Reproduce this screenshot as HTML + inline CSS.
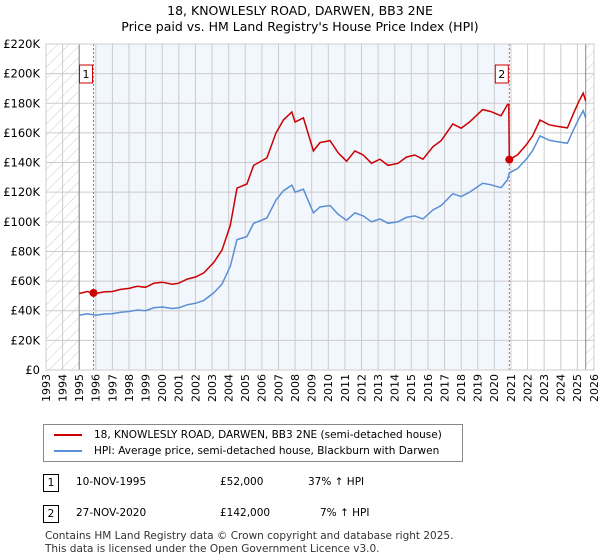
<!DOCTYPE html>
<html><head><meta charset="utf-8">
<style>
body{margin:0;background:#fff;font-family:"DejaVu Sans","Liberation Sans",sans-serif;}
#wrap{position:relative;width:600px;height:560px;overflow:hidden}
.t{position:absolute;font-size:12px;color:#000}
</style></head><body>
<div id="wrap">
<svg id="chart" width="600" height="420" style="position:absolute;left:0;top:0;font-family:'DejaVu Sans',sans-serif"></svg>
<div style="position:absolute;left:43px;top:424px;width:420px;height:38px;border:1px solid #888;box-sizing:border-box;font-size:10.5px">
 <div style="position:absolute;left:10px;top:4px;white-space:nowrap"><span style="display:inline-block;width:28px;height:2px;background:#cc0000;vertical-align:middle;margin-right:12px"></span>18, KNOWLESLY ROAD, DARWEN, BB3 2NE (semi-detached house)</div>
 <div style="position:absolute;left:10px;top:20px;white-space:nowrap"><span style="display:inline-block;width:28px;height:2px;background:#5a8fd4;vertical-align:middle;margin-right:12px"></span>HPI: Average price, semi-detached house, Blackburn with Darwen</div>
</div>
<div class="t" style="top:474px;left:0;width:600px;font-size:10.5px">
 <span style="position:absolute;left:43px;top:0;border:1px solid #000;width:14px;height:16px;text-align:center;line-height:16px">1</span>
 <span style="position:absolute;left:76px;top:2px">10-NOV-1995</span>
 <span style="position:absolute;left:220px;top:2px">£52,000</span>
 <span style="position:absolute;left:308px;top:2px">37% ↑ HPI</span>
</div>
<div class="t" style="top:505px;left:0;width:600px;font-size:10.5px">
 <span style="position:absolute;left:43px;top:0;border:1px solid #000;width:14px;height:16px;text-align:center;line-height:16px">2</span>
 <span style="position:absolute;left:76px;top:2px">27-NOV-2020</span>
 <span style="position:absolute;left:220px;top:2px">£142,000</span>
 <span style="position:absolute;left:320px;top:2px">7% ↑ HPI</span>
</div>
<div class="t" style="left:45px;top:530px;font-size:10.5px;color:#333;line-height:13px;white-space:nowrap">Contains HM Land Registry data © Crown copyright and database right 2025.<br>This data is licensed under the Open Government Licence v3.0.</div>
</div>
<script>
const years=[1993,1994,1995,1996,1997,1998,1999,2000,2001,2002,2003,2004,2005,2006,2007,2008,2009,2010,2011,2012,2013,2014,2015,2016,2017,2018,2019,2020,2021,2022,2023,2024,2025,2026];
const yTicks=[0,20000,40000,60000,80000,100000,120000,140000,160000,180000,200000,220000];
const yLabels=["£0","£20K","£40K","£60K","£80K","£100K","£120K","£140K","£160K","£180K","£200K","£220K"];
const hpiT=[1995.0,1995.5,1996.0,1996.5,1997.0,1997.5,1998.0,1998.5,1999.0,1999.5,2000.0,2000.6,2001.0,2001.5,2002.0,2002.5,2003.1,2003.6,2004.1,2004.5,2005.1,2005.5,2006.3,2006.85,2007.3,2007.8,2008.0,2008.5,2009.1,2009.5,2010.1,2010.6,2011.1,2011.6,2012.1,2012.6,2013.1,2013.6,2014.2,2014.7,2015.2,2015.7,2016.3,2016.8,2017.5,2018.0,2018.5,2019.3,2019.8,2020.4,2020.8,2020.9,2021.4,2021.9,2022.3,2022.75,2023.3,2023.8,2024.4,2024.8,2025.1,2025.35,2025.5];
const hpiV=[37000,38000,37000,37800,38000,39000,39500,40500,40000,42000,42500,41500,42000,44000,45000,47000,52000,58000,70000,88000,90000,99000,102600,114700,121000,124800,120000,122000,106000,110000,111000,105000,101000,106000,104000,100000,102000,99000,100000,103000,104000,102000,108000,111000,119000,117000,120000,126000,125000,123000,128500,133000,136000,142000,148000,158000,155000,154000,153000,163000,170000,175000,170000];
const saleT=[1995.86,2020.9];
const saleV=[52000,142000];
const L=46,R=594,T=44,B=370;
const sx=y=>L+(y-1993)/33*(R-L);
const sy=v=>B-v/220000*(B-T);
const svg=document.getElementById('chart');
const NS='http://www.w3.org/2000/svg';
function el(tag,at,parent){const e=document.createElementNS(NS,tag);for(const k in at)e.setAttribute(k,at[k]);(parent||svg).appendChild(e);return e;}
const defs=el('defs',{});
const pat=el('pattern',{id:'hatch',width:8,height:8,patternUnits:'userSpaceOnUse',patternTransform:'rotate(45)'},defs);
el('line',{x1:0,y1:0,x2:0,y2:8,stroke:'#ccc','stroke-width':1},pat);
let t=el('text',{x:300,y:15,'text-anchor':'middle','font-size':12.5});t.textContent="18, KNOWLESLY ROAD, DARWEN, BB3 2NE";

t=el('text',{x:300,y:31,'text-anchor':'middle','font-size':12.5});t.textContent="Price paid vs. HM Land Registry's House Price Index (HPI)";

let r=el('rect',{x:sx(1993),y:T,width:sx(1995)-sx(1993),height:B-T,fill:'url(#hatch)'});

r=el('rect',{x:sx(2025.5),y:T,width:R-sx(2025.5),height:B-T,fill:'url(#hatch)'});

r=el('rect',{x:sx(saleT[0]),y:T,width:sx(saleT[1])-sx(saleT[0]),height:B-T,fill:'#f2f6fd'});

years.forEach(y=>{const g=el('line',{x1:sx(y),x2:sx(y),y1:T,y2:B,stroke:'#cccccc','stroke-width':1});

const tx=el('text',{x:sx(y),y:B+4,'font-size':11,'text-anchor':'end',transform:`rotate(-90 ${sx(y)} ${B+4})`,dy:'0.35em'});tx.textContent=y;
});
yTicks.forEach((v,i)=>{const g=el('line',{x1:L,x2:R,y1:sy(v),y2:sy(v),stroke:'#cccccc','stroke-width':1});

const tx=el('text',{x:L-6,y:sy(v)+4,'font-size':11.5,'text-anchor':'end'});tx.textContent=yLabels[i];
});
[1995,2025.5].forEach(y=>{const g=el('line',{x1:sx(y),x2:sx(y),y1:T,y2:B,stroke:'#888','stroke-width':1});
});
function hpiAt(x){for(let i=0;i<hpiT.length-1;i++){if(x<=hpiT[i+1]){const f=(x-hpiT[i])/(hpiT[i+1]-hpiT[i]);return hpiV[i]+f*(hpiV[i+1]-hpiV[i]);}}return hpiV[hpiV.length-1];}
saleT.forEach((s,i)=>{const g=el('line',{x1:sx(s),x2:sx(s),y1:T,y2:B,stroke:'#ee5555','stroke-width':1,'stroke-dasharray':'2,2'});

const bx=sx(s)-13;
const rr=el('rect',{x:bx-1,y:65,width:13,height:18,fill:'#fff',stroke:'#cc0000'});

const tx=el('text',{x:bx+5.5,y:78,'font-size':11,'text-anchor':'middle'});tx.textContent=i+1;
});
const hp=hpiT.map((x,i)=>`${sx(x).toFixed(1)},${sy(hpiV[i]).toFixed(1)}`).join(' ');
let pl=el('polyline',{points:hp,fill:'none',stroke:'#5a8fd4','stroke-width':1.5});

const k1=saleV[0]/hpiAt(saleT[0]),k2=saleV[1]/hpiAt(saleT[1]);
let pts=[];
hpiT.forEach((x,i)=>{if(x<saleT[1])pts.push([x,hpiV[i]*k1]);});
pts.push([saleT[1]-0.03,hpiAt(saleT[1]-0.1)*k1]);pts.push([saleT[1],saleV[1]]);
hpiT.forEach((x,i)=>{if(x>saleT[1])pts.push([x,hpiV[i]*k2]);});
pl=el('polyline',{points:pts.map(p=>`${sx(p[0]).toFixed(1)},${sy(p[1]).toFixed(1)}`).join(' '),fill:'none',stroke:'#cc0000','stroke-width':1.5});

saleT.forEach((s,i)=>{const c=el('circle',{cx:sx(s),cy:sy(saleV[i]),r:4,fill:'#cc0000'});
});
el('rect',{x:L,y:T,width:R-L,height:B-T,fill:'none',stroke:'#ccc'});
</script>
</body></html>
